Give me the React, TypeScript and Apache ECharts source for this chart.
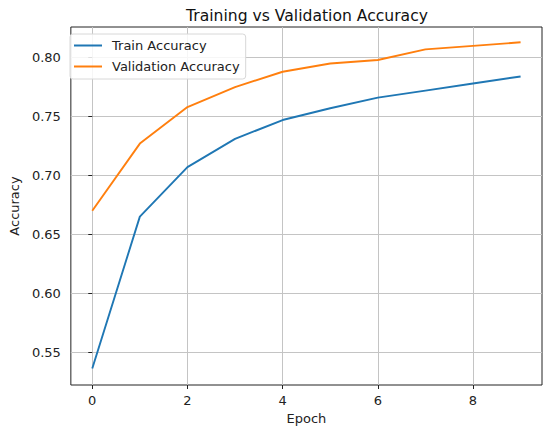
import React, { useEffect, useRef } from "react";
import * as echarts from "echarts";

const epochs = [0, 1, 2, 3, 4, 5, 6, 7, 8, 9];
const trainAccuracy = [0.536, 0.665, 0.707, 0.731, 0.747, 0.757, 0.766, 0.772, 0.778, 0.784];
const valAccuracy = [0.670, 0.727, 0.758, 0.775, 0.788, 0.795, 0.798, 0.807, 0.810, 0.813];
const xTicks = [0, 2, 4, 6, 8];
const yTicks = [0.55, 0.6, 0.65, 0.7, 0.75, 0.8];

const FONT = "DejaVu Sans";
const FS = 13;

export default function App() {
  const ref = useRef<HTMLDivElement>(null);
  useEffect(() => {
    if (!ref.current) return;
    const chart = echarts.init(ref.current, undefined, { renderer: "svg" });
    const axisCommon = {
      type: "value" as const,
      axisLine: { show: false },
      axisTick: { show: true, length: 4, inside: false, lineStyle: { color: "#222", width: 1 } },
      splitLine: { show: true, lineStyle: { color: "#c4c4c4", width: 1 } },
      axisLabel: { color: "#222", fontFamily: FONT, fontSize: FS },
    };
    chart.setOption({
      animation: false,
      backgroundColor: "#fff",
      title: {
        text: "Training vs Validation Accuracy",
        left: 302,
        top: 3,
        textAlign: "center",
        textStyle: { fontFamily: FONT, fontSize: 15.6, fontWeight: "normal", color: "#111" },
      },
      grid: {
        left: 63,
        right: 8,
        top: 27,
        bottom: 47,
        show: true,
        borderColor: "#222",
        borderWidth: 1,
        backgroundColor: "transparent",
      },
      legend: {
        orient: "vertical",
        left: 70,
        top: 34,
        padding: [4, 6, 5, 4],
        itemGap: 6,
        itemWidth: 28,
        itemHeight: 2,
        icon: "rect",
        backgroundColor: "rgba(255,255,255,0.85)",
        borderColor: "#d8d8d8",
        borderWidth: 1,
        borderRadius: 3,
        textStyle: { fontFamily: FONT, fontSize: FS, color: "#222", lineHeight: 15, padding: [0, 0, 0, 5] },
        data: ["Train Accuracy", "Validation Accuracy"],
      },
      xAxis: {
        ...axisCommon,
        min: -0.45,
        max: 9.45,
        name: "Epoch",
        nameLocation: "middle",
        nameGap: 27,
        nameTextStyle: { fontFamily: FONT, fontSize: FS, color: "#222" },
        axisTick: { ...axisCommon.axisTick, customValues: xTicks },
        axisLabel: { ...axisCommon.axisLabel, margin: 9, customValues: xTicks, formatter: (v: number) => String(v) },
      },
      yAxis: {
        ...axisCommon,
        min: 0.522,
        max: 0.826,
        name: "Accuracy",
        nameLocation: "middle",
        nameGap: 48,
        nameTextStyle: { fontFamily: FONT, fontSize: FS, color: "#222" },
        axisTick: { ...axisCommon.axisTick, customValues: yTicks },
        axisLabel: { ...axisCommon.axisLabel, margin: 10, customValues: yTicks, formatter: (v: number) => v.toFixed(2) },
      },
      series: [
        {
          name: "Train Accuracy",
          type: "line",
          data: epochs.map((e, i) => [e, trainAccuracy[i]]),
          showSymbol: false,
          lineStyle: { color: "#1f77b4", width: 1.9 },
          itemStyle: { color: "#1f77b4" },
        },
        {
          name: "Validation Accuracy",
          type: "line",
          data: epochs.map((e, i) => [e, valAccuracy[i]]),
          showSymbol: false,
          lineStyle: { color: "#ff7f0e", width: 1.9 },
          itemStyle: { color: "#ff7f0e" },
        },
      ],
    });
    return () => chart.dispose();
  }, []);
  return (
    <div
      ref={ref}
      style={{ position: "fixed", left: 0, top: 0, width: 550, height: 432, background: "#fff" }}
    />
  );
}
